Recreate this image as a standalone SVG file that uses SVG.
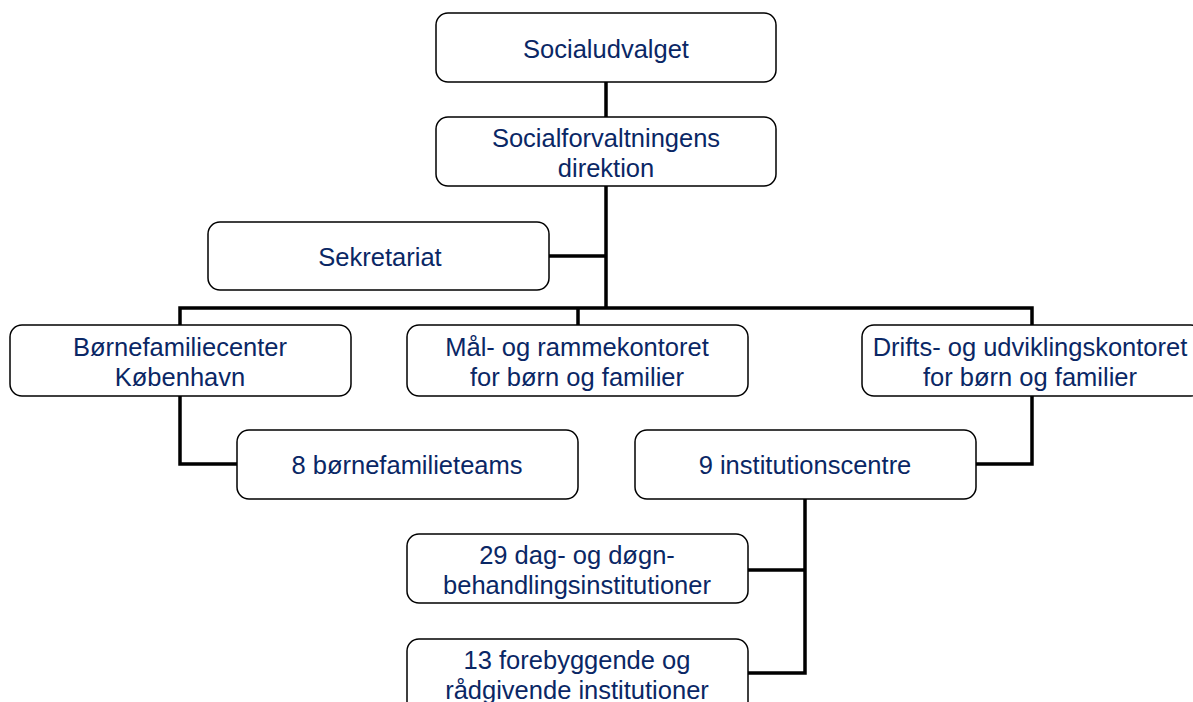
<svg xmlns="http://www.w3.org/2000/svg" width="1193" height="702" viewBox="0 0 1193 702">
<style>
.box{fill:#ffffff;stroke:#000000;stroke-width:1.5}
.t{font-family:"Liberation Sans",Arial,sans-serif;font-size:25.5px;fill:#0a2765;text-anchor:middle}
.c{fill:none;stroke:#000000;stroke-width:3.5;stroke-linejoin:miter;stroke-linecap:butt}
</style>
<rect width="1193" height="702" fill="#ffffff"/>
<g id="connectors">
<path class="c" d="M606 82 V117 M606 186 V308 M549 256 H606"/>
<path class="c" d="M180 325 V308 H1032 V325 M578 308 V325"/>
<path class="c" d="M180 396 V464 H237"/>
<path class="c" d="M1032 396 V464 H976"/>
<path class="c" d="M805 499 V673 H748 M805 570 H748"/>
</g>
<g id="n-socialudvalget">
<rect class="box" x="436" y="13" width="340" height="69" rx="12"/>
<text class="t" x="606" y="58">Socialudvalget</text>
</g>
<g id="n-direktion">
<rect class="box" x="436" y="117" width="340" height="69" rx="12"/>
<text class="t" x="606" y="147">Socialforvaltningens</text>
<text class="t" x="606" y="177">direktion</text>
</g>
<g id="n-sekretariat">
<rect class="box" x="208" y="222" width="341" height="68" rx="12"/>
<text class="t" x="380" y="266">Sekretariat</text>
</g>
<g id="n-bfc">
<rect class="box" x="10" y="325" width="341" height="71" rx="12"/>
<text class="t" x="180" y="356">Børnefamiliecenter</text>
<text class="t" x="180" y="386">København</text>
</g>
<g id="n-maal">
<rect class="box" x="407" y="325" width="341" height="71" rx="12"/>
<text class="t" x="577" y="356">Mål- og rammekontoret</text>
<text class="t" x="577" y="386">for børn og familier</text>
</g>
<g id="n-drifts">
<rect class="box" x="862" y="325" width="341" height="71" rx="12"/>
<text class="t" x="1030" y="356">Drifts- og udviklingskontoret</text>
<text class="t" x="1030" y="386">for børn og familier</text>
</g>
<g id="n-teams">
<rect class="box" x="237" y="430" width="341" height="69" rx="12"/>
<text class="t" x="407" y="474">8 børnefamilieteams</text>
</g>
<g id="n-centre">
<rect class="box" x="635" y="430" width="341" height="69" rx="12"/>
<text class="t" x="805" y="474">9 institutionscentre</text>
</g>
<g id="n-29">
<rect class="box" x="407" y="534" width="341" height="69" rx="12"/>
<text class="t" x="577" y="564">29 dag- og døgn-</text>
<text class="t" x="577" y="594">behandlingsinstitutioner</text>
</g>
<g id="n-13">
<rect class="box" x="407" y="639" width="341" height="75" rx="12"/>
<text class="t" x="577" y="669">13 forebyggende og</text>
<text class="t" x="577" y="699">rådgivende institutioner</text>
</g>
</svg>
